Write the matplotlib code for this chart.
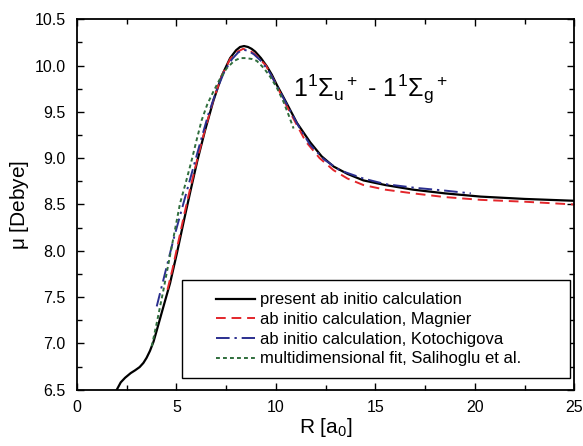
import matplotlib
matplotlib.use("Agg")
import matplotlib.pyplot as plt
from matplotlib.patches import Rectangle
from matplotlib.ticker import MultipleLocator

plt.rcParams["font.family"] = ["Liberation Sans", "DejaVu Sans"]
plt.rcParams["mathtext.fontset"] = "custom"
plt.rcParams["mathtext.rm"] = "Liberation Sans"
plt.rcParams["mathtext.it"] = "Liberation Sans"
plt.rcParams["mathtext.bf"] = "Liberation Sans"

# present ab initio calculation
r_present = [2.0, 2.2, 2.42, 2.7, 2.92, 3.15, 3.34, 3.5, 3.67, 3.85, 4.01, 4.35, 4.68, 5.02,
             5.35, 5.7, 6.05, 6.44, 6.86, 7.28, 7.7, 8.0, 8.2, 8.4, 8.6, 8.78, 8.96,
             9.25, 9.55, 9.8, 10.05, 10.55, 11.06, 11.73, 12.3, 12.9, 13.6, 14.4, 15.5,
             16.9, 18.5, 20.3, 22.5, 25.0]
mu_present = [6.5, 6.58, 6.63, 6.68, 6.71, 6.745, 6.79, 6.845, 6.92, 7.02, 7.14, 7.40, 7.65, 7.97,
              8.30, 8.64, 8.97, 9.30, 9.62, 9.89, 10.08, 10.165, 10.20, 10.21, 10.20, 10.18, 10.15,
              10.08, 9.99, 9.90, 9.79, 9.59, 9.38, 9.17, 9.02, 8.91, 8.83, 8.76, 8.71,
              8.66, 8.62, 8.585, 8.56, 8.54]

# ab initio calculation, Magnier
r_magnier = [4.55, 4.8, 5.1, 5.4, 5.7, 6.05, 6.44, 6.86, 7.28, 7.7, 8.0, 8.35, 8.7, 9.0,
             9.5, 10.0, 10.5, 11.0, 11.5, 12.2, 12.9, 13.6, 14.4, 15.5, 16.9, 18.5,
             20.3, 22.5, 25.0]
mu_magnier = [7.58, 7.80, 8.10, 8.40, 8.68, 8.99, 9.31, 9.63, 9.89, 10.07, 10.14, 10.18, 10.16, 10.11,
              10.00, 9.80, 9.58, 9.38, 9.18, 9.00, 8.87, 8.78, 8.71, 8.66, 8.62, 8.58,
              8.55, 8.53, 8.50]

# ab initio calculation, Kotochigova
r_koto = [4.01, 4.43, 4.85, 5.35, 5.8, 6.2, 6.6, 7.0, 7.4, 7.8, 8.1, 8.35, 8.6, 8.9,
          9.3, 9.7, 10.1, 10.6, 11.1, 11.7, 12.4, 13.2, 14.4, 15.5, 17.0, 18.5, 19.8]
mu_koto = [7.40, 7.76, 8.12, 8.51, 8.86, 9.17, 9.47, 9.72, 9.93, 10.07, 10.14, 10.17, 10.16, 10.12,
           10.04, 9.92, 9.76, 9.56, 9.36, 9.15, 8.99, 8.87, 8.78, 8.72, 8.68, 8.65, 8.62]

# multidimensional fit, Salihoglu et al.
r_fit = [3.76, 4.01, 4.35, 4.76, 5.18, 5.5, 5.77, 6.02, 6.27, 6.55, 6.86, 7.2, 7.53, 7.9,
         8.2, 8.5, 8.8, 9.04, 9.4, 9.71, 10.05, 10.38, 10.65, 10.89]
mu_fit = [6.97, 7.22, 7.58, 8.04, 8.51, 8.76, 8.98, 9.20, 9.41, 9.58, 9.72, 9.86, 9.97, 10.05,
          10.08, 10.08, 10.07, 10.05, 9.97, 9.88, 9.76, 9.61, 9.46, 9.32]

fig = plt.figure(figsize=(5.83, 4.46), dpi=100)
ax = fig.add_axes([0.132, 0.126, 0.853, 0.831])

ax.plot(r_present, mu_present, color="black", lw=1.6, label="present ab initio calculation")
ax.plot(r_magnier, mu_magnier, color="#e3262b", lw=1.4, dashes=(5, 3),
        label="ab initio calculation, Magnier")
ax.plot(r_koto, mu_koto, color="#2b2f8f", lw=1.4, dashes=(7, 2.5, 1.2, 2.5),
        label="ab initio calculation, Kotochigova")
ax.plot(r_fit, mu_fit, color="#2f6e3c", lw=1.4, dashes=(2, 1.6),
        label="multidimensional fit, Salihoglu et al.")

ax.text(10.85, 9.66, r"$1^1\Sigma_u{}^+$ - $1^1\Sigma_g{}^+$", fontsize=18,
        ha="left", va="baseline")

ax.set_xlim(0, 25)
ax.set_ylim(6.5, 10.5)
ax.xaxis.set_major_locator(MultipleLocator(5))
ax.xaxis.set_minor_locator(MultipleLocator(2.5))
ax.yaxis.set_major_locator(MultipleLocator(0.5))
ax.yaxis.set_minor_locator(MultipleLocator(0.25))
ax.tick_params(which="both", direction="in", top=True, right=True, labelsize=11.5)
ax.tick_params(which="major", length=5, width=1)
ax.tick_params(which="minor", length=3.5, width=1)
ax.tick_params(axis="y", pad=8)
ax.tick_params(axis="x", pad=7)
for s in ax.spines.values():
    s.set_linewidth(1.3)

ax.set_xlabel(r"R [a$_0$]", fontsize=15, labelpad=1)
ax.set_ylabel(r"$\mu$ [Debye]", fontsize=15, labelpad=3)

# legend box is wider than its content, so draw the frame separately
ax.add_patch(Rectangle((0.211, 0.032), 0.781, 0.264, transform=ax.transAxes,
                       facecolor="white", edgecolor="black", lw=1.0, zorder=4))
leg = ax.legend(loc="center left", bbox_to_anchor=(0.28, 0.163), fontsize=12,
                frameon=False, handlelength=2.3, labelspacing=0.28, borderpad=0,
                borderaxespad=0, handletextpad=0.3)
leg.set_zorder(5)

fig.savefig("out.png", dpi=100)
